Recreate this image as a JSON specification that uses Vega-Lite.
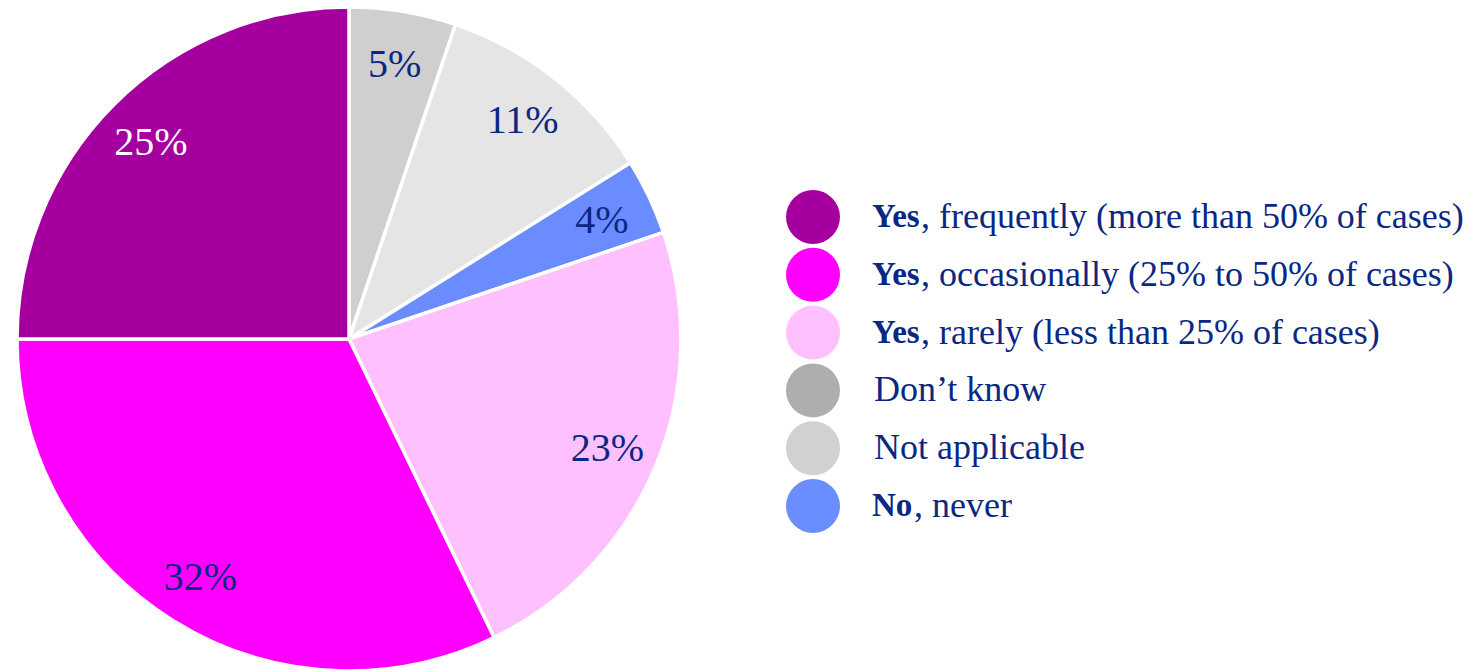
{
  "$schema": "https://vega.github.io/schema/vega-lite/v6.json",
  "padding": 0,
  "spacing": 88,
  "background": "white",
  "config": {"view": {"stroke": null}, "font": "Liberation Serif"},
  "datasets": {
    "slices": [
      {"answer": "Don’t know", "rank": 1, "share": 0.052},
      {"answer": "Not applicable", "rank": 2, "share": 0.109},
      {"answer": "No, never", "rank": 3, "share": 0.037},
      {"answer": "Yes, rarely", "rank": 4, "share": 0.23},
      {"answer": "Yes, occasionally", "rank": 5, "share": 0.322},
      {"answer": "Yes, frequently", "rank": 6, "share": 0.25}
    ],
    "legend": [
      {"item": "Yes, frequently (more than 50% of cases)", "bold": "Yes", "rest": ", frequently (more than 50% of cases)"},
      {"item": "Yes, occasionally (25% to 50% of cases)", "bold": "Yes", "rest": ", occasionally (25% to 50% of cases)"},
      {"item": "Yes, rarely (less than 25% of cases)", "bold": "Yes", "rest": ", rarely (less than 25% of cases)"},
      {"item": "Don’t know", "bold": "", "rest": "Don’t know"},
      {"item": "Not applicable", "bold": "", "rest": "Not applicable"},
      {"item": "No, never", "bold": "No", "rest": ", never"}
    ]
  },
  "hconcat": [
    {
      "width": 698,
      "height": 670,
      "data": {"name": "slices"},
      "layer": [
        {
          "mark": {"type": "arc", "radius": 332, "stroke": "white", "strokeWidth": 3.5, "yOffset": 1},
          "encoding": {
            "theta": {"field": "share", "type": "quantitative", "stack": true},
            "order": {"field": "rank", "type": "quantitative"},
            "color": {
              "field": "answer",
              "type": "nominal",
              "scale": {
                "domain": ["Don’t know", "Not applicable", "No, never", "Yes, rarely", "Yes, occasionally", "Yes, frequently"],
                "range": ["#d0cece", "#e5e5e5", "#6a8cff", "#ffc0ff", "#ff00ff", "#a5009f"]
              },
              "legend": null
            }
          }
        },
        {
          "mark": {"type": "text", "radius": 280, "fontSize": 40, "font": "Liberation Serif", "yOffset": 3, "align": "center", "baseline": "middle"},
          "encoding": {
            "theta": {"field": "share", "type": "quantitative", "stack": true},
            "order": {"field": "rank", "type": "quantitative"},
            "text": {"field": "share", "type": "quantitative", "format": ".0%"},
            "color": {
              "condition": {"test": "datum.answer === 'Yes, frequently'", "value": "white"},
              "value": "#0a2882"
            }
          }
        }
      ]
    },
    {
      "width": 54,
      "height": 670,
      "data": {"name": "legend"},
      "encoding": {
        "y": {
          "field": "item",
          "type": "ordinal",
          "sort": null,
          "axis": null,
          "scale": {
            "domain": ["Yes, frequently (more than 50% of cases)", "Yes, occasionally (25% to 50% of cases)", "Yes, rarely (less than 25% of cases)", "Don’t know", "Not applicable", "No, never"],
            "range": [214, 503],
            "padding": 0
          }
        }
      },
      "layer": [
        {
          "mark": {"type": "point", "shape": "circle", "filled": true, "size": 2916, "opacity": 1},
          "encoding": {
            "color": {
              "field": "item",
              "type": "nominal",
              "scale": {
                "domain": ["Yes, frequently (more than 50% of cases)", "Yes, occasionally (25% to 50% of cases)", "Yes, rarely (less than 25% of cases)", "Don’t know", "Not applicable", "No, never"],
                "range": ["#a5009f", "#ff00ff", "#ffc0ff", "#b0adad", "#d2d0d0", "#6a8dff"]
              },
              "legend": null
            }
          }
        },
        {
          "transform": [{"filter": "datum.bold != ''"}],
          "mark": {"type": "text", "align": "left", "baseline": "middle", "dx": 59, "fontSize": 33, "fontWeight": "bold", "color": "#0a2882", "font": "Liberation Serif"},
          "encoding": {"text": {"field": "bold"}}
        },
        {
          "transform": [{"filter": "datum.bold == 'Yes'"}],
          "mark": {"type": "text", "align": "left", "baseline": "middle", "dx": 108, "fontSize": 36, "color": "#0a2882", "font": "Liberation Serif"},
          "encoding": {"text": {"field": "rest"}}
        },
        {
          "transform": [{"filter": "datum.bold == 'No'"}],
          "mark": {"type": "text", "align": "left", "baseline": "middle", "dx": 101, "fontSize": 36, "color": "#0a2882", "font": "Liberation Serif"},
          "encoding": {"text": {"field": "rest"}}
        },
        {
          "transform": [{"filter": "datum.bold == ''"}],
          "mark": {"type": "text", "align": "left", "baseline": "middle", "dx": 61, "fontSize": 36, "color": "#0a2882", "font": "Liberation Serif"},
          "encoding": {"text": {"field": "rest"}}
        }
      ]
    }
  ],
  "resolve": {"scale": {"color": "independent"}}
}
